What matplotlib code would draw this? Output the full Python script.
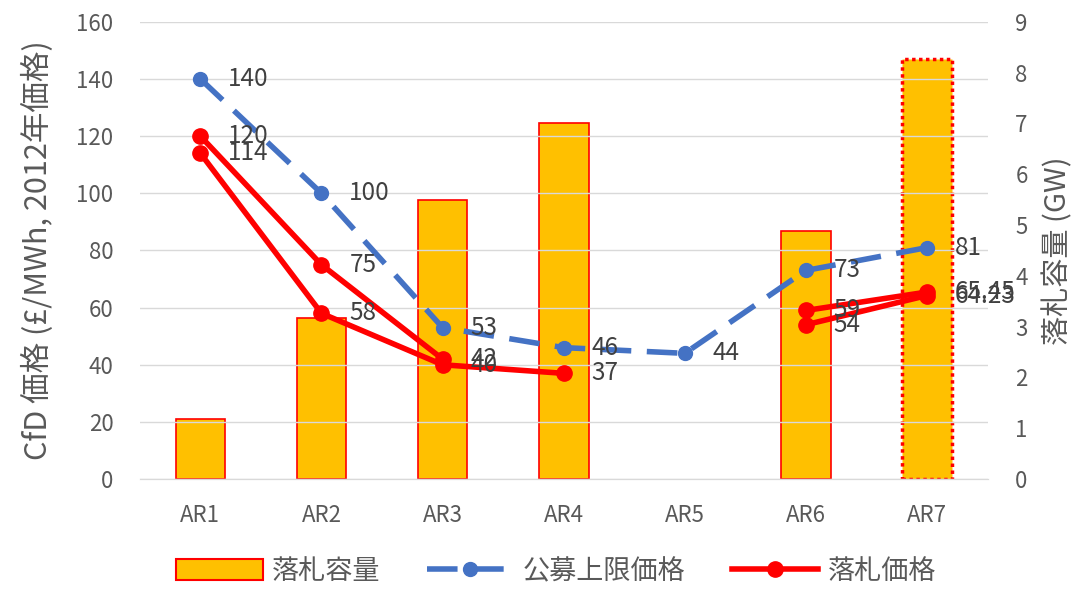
import matplotlib
matplotlib.use("Agg")
import matplotlib.pyplot as plt
import numpy as np
from matplotlib.patches import Patch
from matplotlib.lines import Line2D

plt.rcParams['font.family'] = ['Noto Sans CJK JP', 'DejaVu Sans']

categories = ["AR1", "AR2", "AR3", "AR4", "AR5", "AR6", "AR7"]
capacity_gw = [1.18, 3.17, 5.5, 7.0, np.nan, 4.88, 8.27]
cap_price = [140, 100, 53, 46, 44, 73, 81]
strike_high = [120, 75, 42, np.nan, np.nan, 59, 65.45]
strike_low = [114, 58, 40, 37, np.nan, 54, 64.23]

label_cap = ["140", "100", "53", "46", "44", "73", "81"]
label_high = ["120", "75", "42", None, None, "59", "65.45"]
label_low = ["114", "58", "40", "37", None, "54", "64.23"]

gray = "#595959"
txt = "#404040"

fig = plt.figure(figsize=(10.84, 5.9), dpi=100)
ax = fig.add_axes([0.129, 0.188, 0.782, 0.775])
ax2 = ax.twinx()

x = np.arange(len(categories))

# bars on secondary axis
for i, v in enumerate(capacity_gw):
    if np.isnan(v):
        continue
    if i == len(categories) - 1:
        ax2.bar(x[i], v, width=0.41, color="#FFC000", edgecolor="#FF0000",
                linewidth=2.5, linestyle=(0, (1, 1)), zorder=1)
    else:
        ax2.bar(x[i], v, width=0.41, color="#FFC000", edgecolor="#FF0000",
                linewidth=1.2, zorder=1)

ax2.set_ylim(0, 9)
ax2.set_yticks(range(0, 10))
ax2.set_ylabel("落札容量 (GW)", fontsize=21, color=gray, labelpad=11)

# lines on primary axis, drawn above bars
ax.set_zorder(ax2.get_zorder() + 1)
ax.patch.set_visible(False)

ax.plot(x, cap_price, color="#4472C4", linewidth=4, linestyle=(0, (5.5, 2.8)),
        marker="o", markersize=10, zorder=3)
ax.plot(x, strike_high, color="#FF0000", linewidth=4, marker="o", markersize=11, zorder=4)
ax.plot(x, strike_low, color="#FF0000", linewidth=4, marker="o", markersize=11, zorder=4)

for vals, labs in [(cap_price, label_cap), (strike_high, label_high), (strike_low, label_low)]:
    for xi, v, lab in zip(x, vals, labs):
        if lab is None:
            continue
        ax.annotate(lab, (xi, v), xytext=(20, 0), textcoords="offset points",
                    ha="left", va="center", fontsize=17.5, color=txt, zorder=5)

ax.set_ylim(0, 160)
ax.set_yticks(range(0, 161, 20))
ax.set_xlim(-0.5, len(categories) - 0.5)
ax.set_xticks(x)
ax.set_xticklabels(categories)
ax.set_ylabel("CfD 価格 (£/MWh, 2012年価格)", fontsize=22, color=gray, labelpad=16)
ax.grid(axis="y", color="#D9D9D9", linewidth=1)
ax.set_axisbelow(True)

for a in (ax, ax2):
    for s in ["top", "right", "left"]:
        a.spines[s].set_visible(False)
    a.spines["bottom"].set_color("#D9D9D9")
    a.tick_params(axis="both", length=0, labelsize=16, colors=gray)
ax.tick_params(axis="y", pad=19)
ax.tick_params(axis="x", pad=18)
ax2.tick_params(axis="y", pad=20)
ax2.grid(False)

handles = [
    Patch(facecolor="#FFC000", edgecolor="#FF0000", linewidth=1.5),
    Line2D([0], [0], color="#4472C4", linewidth=4, linestyle=(0, (5.5, 2.8)), marker="o", markersize=10),
    Line2D([0], [0], color="#FF0000", linewidth=4, marker="o", markersize=11),
]
fig.legend(handles, ["落札容量", "公募上限価格", "落札価格"], loc="lower center",
           bbox_to_anchor=(0.513, -0.033), ncol=3, frameon=False, fontsize=19.5,
           labelcolor=gray, handlelength=3.2, handleheight=0.8,
           columnspacing=1.7, handletextpad=0.35)

fig.savefig("out.png", dpi=100)
